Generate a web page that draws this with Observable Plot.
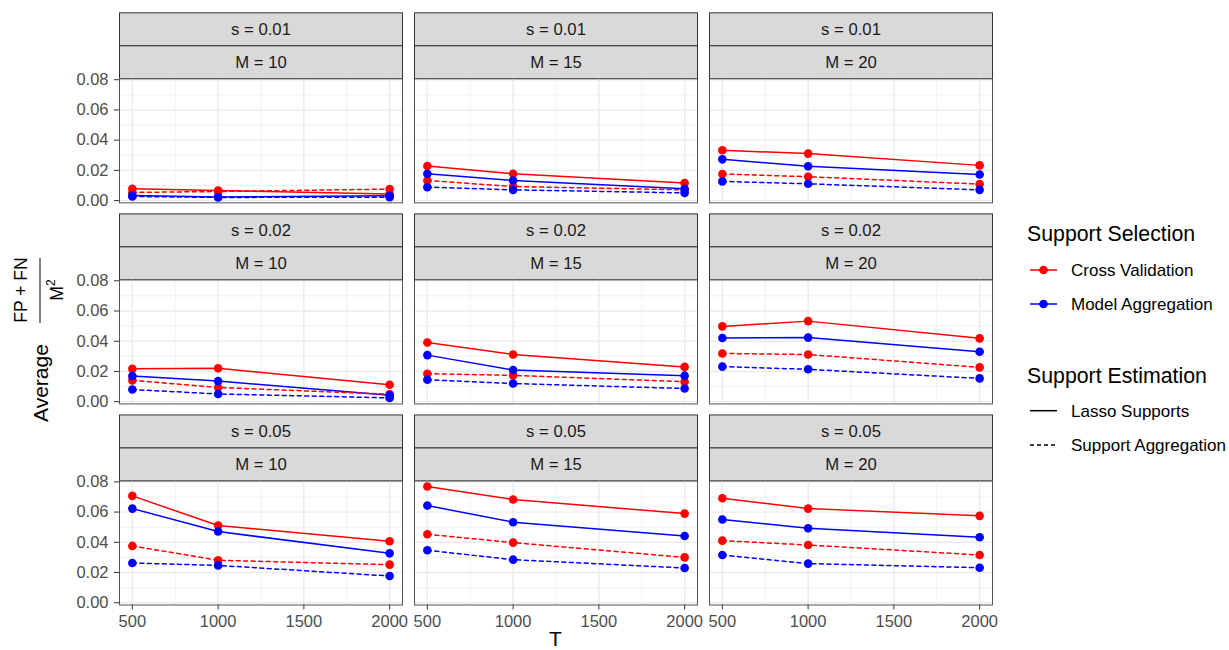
<!DOCTYPE html>
<html>
<head>
<meta charset="utf-8">
<script src="https://cdn.jsdelivr.net/npm/d3@7"></script>
<script src="https://cdn.jsdelivr.net/npm/@observablehq/plot@0.6"></script>
<style>
  body { margin: 0; background: #fff; }
  #chart svg { display: block; }
</style>
</head>
<body>
<div id="chart"></div>
<script>
// ---------------- data ----------------
const T_values = [500, 1000, 2000];
const s_levels = [0.01, 0.02, 0.05];
const M_levels = [10, 15, 20];
const selectionLevels = ["Cross Validation", "Model Aggregation"];
const estimationLevels = ["Lasso Supports", "Support Aggregation"];
const xTicks = [500, 1000, 1500, 2000];
const xMinor = [750, 1250, 1750];
const yTicks = [0, 0.02, 0.04, 0.06, 0.08];
const yMinor = [0.01, 0.03, 0.05, 0.07];

// values[s index][M index] = [T=500, T=1000, T=2000]
const cvLasso = [
  [[0.0078, 0.0066, 0.0044], [0.0229, 0.0178, 0.0116], [0.0333, 0.0311, 0.0233]],
  [[0.0217, 0.0221, 0.0112], [0.0391, 0.0312, 0.0230], [0.0498, 0.0533, 0.0419]],
  [[0.0707, 0.0511, 0.0407], [0.0769, 0.0683, 0.0590], [0.0692, 0.0623, 0.0575]]
];
const cvSupAgg = [
  [[0.0054, 0.0060, 0.0076], [0.0133, 0.0093, 0.0071], [0.0176, 0.0158, 0.0109]],
  [[0.0141, 0.0094, 0.0049], [0.0185, 0.0174, 0.0132], [0.0319, 0.0312, 0.0227]],
  [[0.0376, 0.0281, 0.0252], [0.0453, 0.0398, 0.0300], [0.0411, 0.0382, 0.0316]]
];
const maLasso = [
  [[0.0033, 0.0024, 0.0032], [0.0178, 0.0133, 0.0078], [0.0273, 0.0227, 0.0173]],
  [[0.0170, 0.0136, 0.0043], [0.0308, 0.0210, 0.0172], [0.0421, 0.0424, 0.0330]],
  [[0.0623, 0.0471, 0.0327], [0.0643, 0.0533, 0.0442], [0.0551, 0.0493, 0.0433]]
];
const maSupAgg = [
  [[0.0027, 0.0021, 0.0022], [0.0089, 0.0071, 0.0051], [0.0127, 0.0111, 0.0071]],
  [[0.0080, 0.0051, 0.0025], [0.0145, 0.0120, 0.0087], [0.0232, 0.0214, 0.0154]],
  [[0.0263, 0.0247, 0.0177], [0.0347, 0.0285, 0.0230], [0.0316, 0.0259, 0.0232]]
];

const seriesDefs = [
  {sel: selectionLevels[0], est: estimationLevels[0], values: cvLasso},
  {sel: selectionLevels[0], est: estimationLevels[1], values: cvSupAgg},
  {sel: selectionLevels[1], est: estimationLevels[0], values: maLasso},
  {sel: selectionLevels[1], est: estimationLevels[1], values: maSupAgg}
];

const data = [];
const stripData = [];
s_levels.forEach((s, i) => M_levels.forEach((M, j) => {
  stripData.push({s, M});
  seriesDefs.forEach(sd => T_values.forEach((T, k) => {
    data.push({s, M, T, sel: sd.sel, est: sd.est, value: sd.values[i][j][k]});
  }));
}));

// ---------------- layout ----------------
const W = 1229, H = 650;
const mLeft = 119, mRight = W - 992, mTop = 78.3, mBottom = H - 604.5;
const colPad = 12 / 295, rowPad = 77 / 201;
const rowStep = (H - mBottom - mTop) / (3 - rowPad);
const panelH = rowStep * (1 - rowPad);
const stripH = 33;
const colors = ["#ff0000", "#0000ff"];
const FONT = "'Liberation Sans', Arial, Helvetica, sans-serif";

const fmtY = d3.format(".2f");

const chart = Plot.plot({
  width: W,
  height: H,
  marginLeft: mLeft,
  marginRight: mRight,
  marginTop: mTop,
  marginBottom: mBottom,
  style: {fontFamily: FONT, fontSize: "16.5px", background: "#fff", color: "#000"},
  fx: {domain: M_levels, paddingInner: colPad, paddingOuter: 0, round: false, axis: null},
  fy: {domain: s_levels, paddingInner: rowPad, paddingOuter: 0, round: false, axis: null},
  x: {domain: [425, 2075]},
  y: {domain: [-0.0015, 0.0806]},
  color: {domain: selectionLevels, range: colors},
  marks: [
    // strips
    Plot.frame({fill: "#d9d9d9", stroke: "#333", strokeWidth: 1, insetTop: -2 * stripH, insetBottom: panelH + stripH}),
    Plot.frame({fill: "#d9d9d9", stroke: "#333", strokeWidth: 1, insetTop: -stripH, insetBottom: panelH}),
    Plot.text(stripData, {fx: "M", fy: "s", frameAnchor: "top", dy: -1.5 * stripH, lineAnchor: "middle",
      text: d => `s = ${d.s.toFixed(2)}`, fill: "#1a1a1a", fontSize: 16.7}),
    Plot.text(stripData, {fx: "M", fy: "s", frameAnchor: "top", dy: -0.5 * stripH, lineAnchor: "middle",
      text: d => `M = ${d.M}`, fill: "#1a1a1a", fontSize: 16.7}),
    // grid
    Plot.gridX(xMinor, {stroke: "#ebebeb", strokeOpacity: 1, strokeWidth: 0.7}),
    Plot.gridY(yMinor, {stroke: "#ebebeb", strokeOpacity: 1, strokeWidth: 0.7}),
    Plot.gridX(xTicks, {stroke: "#ebebeb", strokeOpacity: 1, strokeWidth: 1.4}),
    Plot.gridY(yTicks, {stroke: "#ebebeb", strokeOpacity: 1, strokeWidth: 1.4}),
    // lines
    Plot.line(data.filter(d => d.est === estimationLevels[0]), {
      fx: "M", fy: "s", x: "T", y: "value", z: "sel", stroke: "sel", strokeWidth: 1.5
    }),
    Plot.line(data.filter(d => d.est === estimationLevels[1]), {
      fx: "M", fy: "s", x: "T", y: "value", z: "sel", stroke: "sel", strokeWidth: 1.5, strokeDasharray: "4,3.5"
    }),
    // points
    Plot.dot(data, {fx: "M", fy: "s", x: "T", y: "value", fill: "sel", r: 4.3}),
    // panel border
    Plot.frame({stroke: "#555", strokeWidth: 1}),
    // axes
    Plot.axisY({ticks: yTicks, tickFormat: fmtY, tickSize: 5, tickPadding: 6, label: null,
      facetAnchor: "left", stroke: "#333", fill: "#4d4d4d", fontSize: 16.5}),
    Plot.axisX({ticks: xTicks, tickFormat: d => String(d), tickSize: 5, tickPadding: 5.5, label: null,
      facetAnchor: "bottom", stroke: "#333", fill: "#4d4d4d", fontSize: 16.5})
  ]
});

document.getElementById("chart").appendChild(chart);

// ---------------- titles and legend ----------------
const svg = d3.select(chart);

// x title
svg.append("text")
  .attr("x", (mLeft + (W - mRight)) / 2).attr("y", 646)
  .attr("text-anchor", "middle")
  .attr("font-family", FONT).attr("font-size", 21).attr("fill", "#000")
  .text("T");

// y title: Average (FP + FN) / M^2, rotated
const yt = svg.append("g").attr("transform", "rotate(-90)")
  .attr("font-family", FONT).attr("fill", "#000");
yt.append("text").attr("x", -422).attr("y", 48).attr("font-size", 21)
  .attr("text-anchor", "start").text("Average");
yt.append("line").attr("x1", -323).attr("x2", -258).attr("y1", 40).attr("y2", 40)
  .attr("stroke", "#000").attr("stroke-width", 1);
yt.append("text").attr("x", -290).attr("y", 26.5).attr("font-size", 17.5)
  .attr("text-anchor", "middle").text("FP + FN");
const den = yt.append("text").attr("x", -290).attr("y", 63).attr("font-size", 17.5)
  .attr("text-anchor", "middle");
den.append("tspan").text("M");
den.append("tspan").attr("font-size", 12).attr("dy", -8).text("2");

// legend
const lg = svg.append("g").attr("font-family", FONT).attr("fill", "#000").attr("text-anchor", "start");
lg.append("text").attr("x", 1027).attr("y", 241).attr("font-size", 21.3)
  .attr("text-anchor", "start").text("Support Selection");
selectionLevels.forEach((name, i) => {
  const y = 270 + i * 34;
  lg.append("line").attr("x1", 1030).attr("x2", 1057).attr("y1", y).attr("y2", y)
    .attr("stroke", colors[i]).attr("stroke-width", 1.5);
  lg.append("circle").attr("cx", 1043.5).attr("cy", y).attr("r", 4.3).attr("fill", colors[i]);
  lg.append("text").attr("x", 1071).attr("y", y + 6.3).attr("font-size", 17)
    .attr("text-anchor", "start").text(name);
});
lg.append("text").attr("x", 1027).attr("y", 383.3).attr("font-size", 21.3)
  .attr("text-anchor", "start").text("Support Estimation");
estimationLevels.forEach((name, i) => {
  const y = 410.7 + i * 34.3;
  const ln = lg.append("line").attr("x1", 1030).attr("x2", 1057).attr("y1", y).attr("y2", y)
    .attr("stroke", "#000").attr("stroke-width", 1.5);
  if (i === 1) ln.attr("stroke-dasharray", "4,3");
  lg.append("text").attr("x", 1071).attr("y", y + 6.1).attr("font-size", 17)
    .attr("text-anchor", "start").text(name);
});
</script>
</body>
</html>
